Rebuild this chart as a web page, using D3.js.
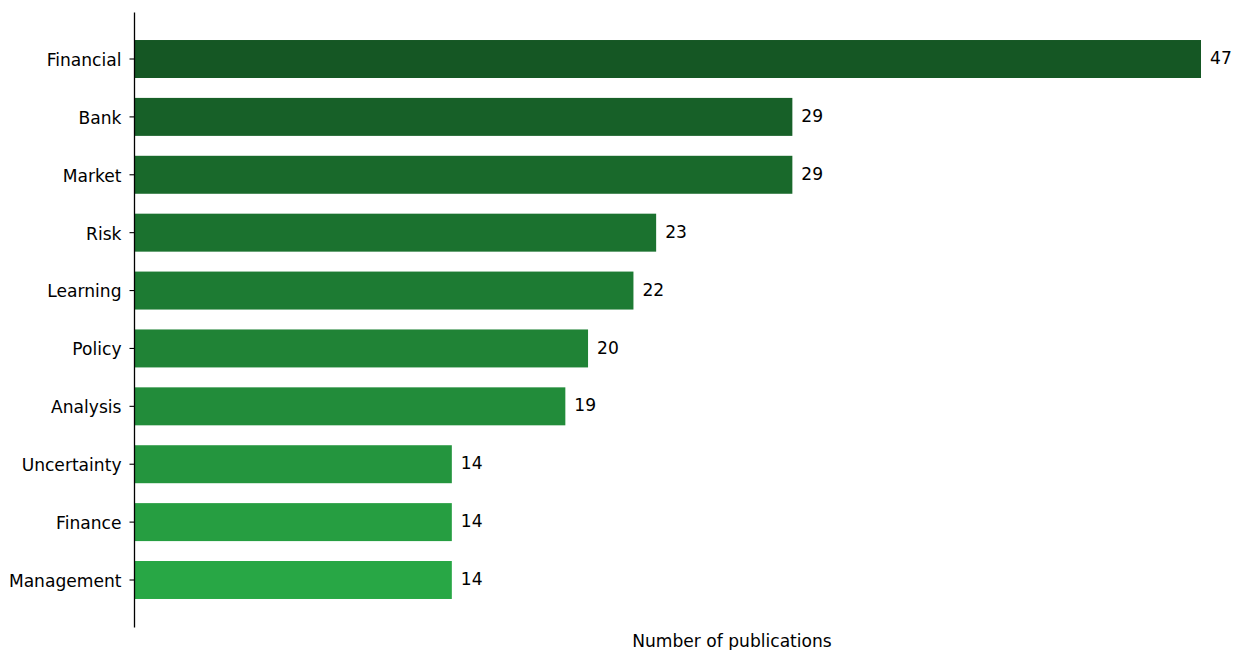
<!DOCTYPE html>
<html><head><meta charset="utf-8">
<script src="https://cdn.jsdelivr.net/npm/d3@7"></script>
<style>body{margin:0;background:#fff}svg{display:block}text{font-family:"DejaVu Sans",sans-serif;fill:#000}</style>
</head><body>
<script>
const categories = ["Financial","Bank","Market","Risk","Learning","Policy","Analysis","Uncertainty","Finance","Management"];
const counts = [47,29,29,23,22,20,19,14,14,14];
const xLabel = "Number of publications";
const colorDark = "#155724", colorLight = "#28a745";

const W = 1238, H = 650;
const svg = d3.select("body").append("svg").attr("width", W).attr("height", H);
const fs = 17.1;

const x = d3.scaleLinear().domain([0, 47]).range([134, 1201]);
const y = d3.scaleBand().domain(categories).range([12, 627]).paddingInner(0.344).paddingOuter(0.484);
const col = d3.scaleLinear().domain([0, categories.length - 1]).range([colorDark, colorLight]).interpolate(d3.interpolateRgb);

svg.selectAll("rect.bar").data(categories).join("rect")
  .attr("class", "bar")
  .attr("x", x(0))
  .attr("y", d => y(d))
  .attr("width", (d, i) => x(counts[i]) - x(0))
  .attr("height", y.bandwidth())
  .attr("fill", (d, i) => col(i));

svg.selectAll("text.val").data(categories).join("text")
  .attr("class", "val")
  .attr("x", (d, i) => x(counts[i]) + 9)
  .attr("y", d => y(d) + y.bandwidth() / 2)
  .attr("dy", "0.3em")
  .style("font-size", fs + "px")
  .text((d, i) => counts[i]);

const yAxis = svg.append("g").attr("transform", `translate(${x(0)},0)`)
  .call(d3.axisLeft(y).tickSize(4.5).tickPadding(8).tickSizeOuter(0));
yAxis.select(".domain").attr("stroke", "#000").attr("stroke-width", 1.3);
yAxis.selectAll(".tick line").attr("stroke", "#000").attr("stroke-width", 1.1);
yAxis.selectAll(".tick text").style("font-size", fs + "px").style("font-family", '"DejaVu Sans",sans-serif').attr("fill", "#000").attr("dy", "0.4em");

svg.append("text")
  .attr("x", 732).attr("y", 647)
  .attr("text-anchor", "middle")
  .style("font-size", fs + "px")
  .text(xLabel);
</script>
</body></html>
